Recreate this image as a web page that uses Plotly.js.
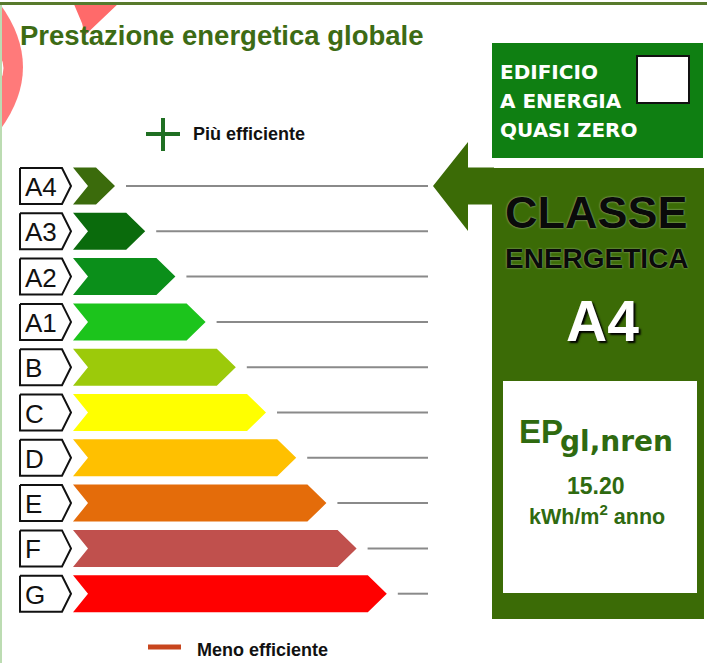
<!DOCTYPE html>
<html>
<head>
<meta charset="utf-8">
<script src="https://cdn.plot.ly/plotly-3.0.1.min.js"></script>
<style>html,body{margin:0;padding:0;background:#fff;}#chart{width:707px;height:663px;}</style>
</head>
<body>
<div id="chart"></div>
<script>
// ---- data ----
const classes = ['A4','A3','A2','A1','B','C','D','E','F','G'];
const classColors = ['#3b6b0c','#0a6b0c','#0b8f1a','#1cc41c','#9cca0a','#ffff00','#ffc000','#e46c0a','#c0504d','#ff0000'];
const currentClass = 'A4';
const epValue = 15.20;
const titleText = 'Prestazione energetica globale';
const moreEfficient = 'Più efficiente';
const lessEfficient = 'Meno efficiente';
const nzebLines = ['EDIFICIO','A ENERGIA','QUASI ZERO'];
const classeLines = ['CLASSE','ENERGETICA'];
const epMain = 'EP';
const epSub = 'gl,nren';
const epUnit = 'kWh/m<sup>2</sup> anno';

// ---- geometry (layout only) ----
const rowY0 = 186, rowStep = 45.3, half = 18.5;
const barX0 = 73, notch = 15, tipLen = 19, tip0 = 115, tipStep = 30.2;
const lineEnd = 428;
const panelColor = '#3b6b06';

const traces = [];
const annotations = [];
function poly(xs, ys, fill, lineColor, lineWidth) {
  traces.push({type:'scatter', mode:'lines', x:xs.concat([xs[0]]), y:ys.concat([ys[0]]),
    fill:'toself', fillcolor:fill, line:{color:lineColor||fill, width:lineWidth===undefined?0:lineWidth},
    hoverinfo:'skip'});
}
function seg(x0,y0,x1,y1,color,width){
  traces.push({type:'scatter', mode:'lines', x:[x0,x1], y:[y0,y1], line:{color:color,width:width}, hoverinfo:'skip'});
}
function txt(x, y, text, size, color, family, xanchor, extra) {
  const font = Object.assign({family:family||'Liberation Sans, Arial, sans-serif', size:size, color:color}, extra||{});
  annotations.push({x:x, y:y, xref:'x', yref:'y', text:text, showarrow:false,
    xanchor:xanchor||'left', yanchor:'middle', borderpad:0, font:font});
}

classes.forEach((c, i) => {
  const yc = rowY0 + i*rowStep, yt = yc - half, yb = yc + half;
  poly([20, 62, 71, 62, 20], [yt+0.5, yt+0.5, yc, yb-0.5, yb-0.5], '#ffffff', '#111111', 2);
  txt(24, yc+1, c, 26, '#111111');
  const tip = tip0 + i*tipStep;
  poly([barX0, tip-tipLen, tip, tip-tipLen, barX0, barX0+notch], [yt, yt, yc, yb, yb, yc], classColors[i]);
  seg(tip+11, yc, lineEnd, yc, '#8a8a8a', 2);
});

const ci = classes.indexOf(currentClass);
const ay = rowY0 + ci*rowStep;
poly([433, 468, 468, 494, 494, 468, 468], [ay, ay-44, ay-18.5, ay-18.5, ay+18.5, ay+18.5, ay+45], panelColor);

const shapes = [
  // decorative pink marks (paper coordinates)
  {type:'path', xref:'paper', yref:'paper', path:'M 0 0.994 Q 0.065 0.899 0 0.804 Z', fillcolor:'#ff7a7a', line:{width:0}, layer:'above'},
  {type:'path', xref:'paper', yref:'paper', path:'M 0 0.916 Q 0.01 0.897 0 0.878 Z', fillcolor:'#ffffff', line:{width:0}, layer:'above'},
  {type:'path', xref:'paper', yref:'paper', path:'M 0.1033 0.997 L 0.116 0.965 L 0.1202 0.947 L 0.1697 0.997 Z', fillcolor:'#ff6a6a', line:{width:0}, layer:'above'},
  // borders
  {type:'line', x0:0, x1:707, y0:3.5, y1:3.5, line:{color:'#587a2c', width:3}, layer:'above'},
  {type:'line', x0:1, x1:1, y0:5, y1:663, line:{color:'#bcdcb2', width:2}},
  // plus sign
  {type:'line', x0:146, x1:180, y0:134, y1:134, line:{color:'#1f6f22', width:4}},
  {type:'line', x0:163, x1:163, y0:118, y1:151, line:{color:'#1f6f22', width:4}},
  // minus dash
  {type:'line', x0:148, x1:181, y0:647, y1:647, line:{color:'#c8461e', width:5}},
  // NZEB panel
  {type:'rect', x0:492, x1:703, y0:43, y1:158, fillcolor:'#0f7f12', line:{width:0}},
  {type:'rect', x0:637, x1:689, y0:56, y1:103, fillcolor:'#ffffff', line:{color:'#111111', width:2}},
  // class panel
  {type:'rect', x0:492, x1:704, y0:168, y1:619, fillcolor:panelColor, line:{width:0}},
  {type:'rect', x0:503, x1:697, y0:381, y1:593, fillcolor:'#ffffff', line:{width:0}}
];

txt(19, 35, '<b>'+titleText+'</b>', 27.5, '#3d6b14');
txt(192, 134, '<b>'+moreEfficient+'</b>', 18, '#111111');
txt(196, 650, '<b>'+lessEfficient+'</b>', 18, '#111111');
nzebLines.forEach((t, k) => {
  txt(499, 72 + k*29, '<b>'+t+'</b>', 20, '#ffffff', 'DejaVu Sans, sans-serif');
});
txt(596, 212, '<b>'+classeLines[0]+'</b>', 45, '#0a0a0a', null, 'center', {shadow:'0px 0px 2px rgba(255,255,255,0.7)'});
txt(597, 258, '<b>'+classeLines[1]+'</b>', 28, '#0a0a0a', null, 'center', {shadow:'0px 0px 2px rgba(255,255,255,0.6)'});
txt(602, 321, '<b>'+currentClass+'</b>', 57, '#ffffff', null, 'center', {shadow:'2px 2px 2px #000000'});
txt(518, 431, '<b>'+epMain+'</b>', 33, '#2f6a10');
txt(559, 441, '<b>'+epSub+'</b>', 28, '#2f6a10', 'DejaVu Sans, sans-serif');
txt(596, 486, '<b>'+epValue.toFixed(2)+'</b>', 23, '#2f6a10', null, 'center');
txt(597, 515, '<b>'+epUnit+'</b>', 21.5, '#2f6a10', null, 'center');

const layout = {
  width:707, height:663, margin:{l:0,r:0,t:0,b:0,pad:0},
  paper_bgcolor:'#ffffff', plot_bgcolor:'#ffffff', showlegend:false,
  xaxis:{range:[0,707], visible:false, fixedrange:true},
  yaxis:{range:[663,0], visible:false, fixedrange:true},
  shapes:shapes, annotations:annotations
};
Plotly.newPlot('chart', traces, layout, {displayModeBar:false, staticPlot:true});
</script>
</body>
</html>
